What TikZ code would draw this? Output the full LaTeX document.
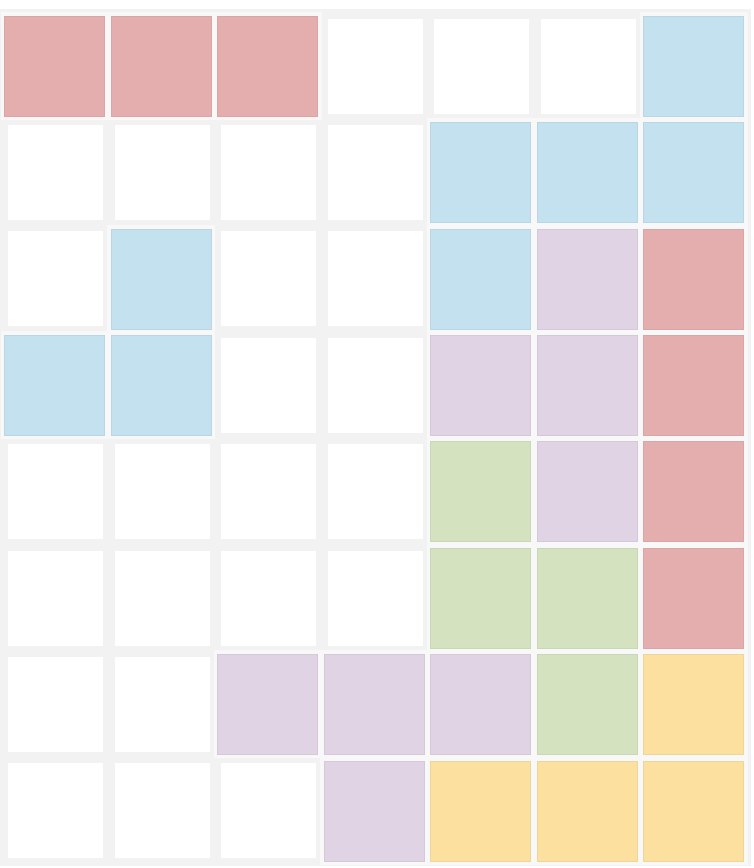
\documentclass[tikz,border=0pt]{standalone}
\definecolor{bgcol}{HTML}{F2F2F2}
\definecolor{framecol}{HTML}{F8F8F8}
\definecolor{cr}{HTML}{E4AEAE}
\definecolor{cb}{HTML}{C3E1EE}
\definecolor{cp}{HTML}{E0D3E3}
\definecolor{cg}{HTML}{D4E2C0}
\definecolor{cy}{HTML}{FBE0A0}
\begin{document}
\begin{tikzpicture}[x=1pt,y=-1pt,
  framebox/.style={fill=framecol, inner sep=0pt, outer sep=0pt, minimum size=108pt},
  colcell/.style={fill=#1, draw=#1!95!black, line width=0.5pt, inner sep=0pt, outer sep=0pt, minimum size=100pt},
  whitecell/.style={fill=white, inner sep=0pt, outer sep=0pt, minimum size=95pt}]
\useasboundingbox[fill=white] (0,0) rectangle (754,868);
\fill[bgcol] (0,9) rectangle (751,866);
\def\collist{1/1/cr,1/2/cr,1/3/cr,1/7/cb,
 2/5/cb,2/6/cb,2/7/cb,
 3/2/cb,3/5/cb,3/6/cp,3/7/cr,
 4/1/cb,4/2/cb,4/5/cp,4/6/cp,4/7/cr,
 5/5/cg,5/6/cp,5/7/cr,
 6/5/cg,6/6/cg,6/7/cr,
 7/3/cp,7/4/cp,7/5/cp,7/6/cg,7/7/cy,
 8/4/cp,8/5/cy,8/6/cy,8/7/cy}
\foreach \r/\c/\k in \collist {
  \node[framebox] (f\r-\c) at ({54.5+106.5*(\c-1)},{66+106.4*(\r-1)}) {};
}
\foreach \r/\c/\k in \collist {
  \node[colcell=\k] (n\r-\c) at ({54.5+106.5*(\c-1)},{66+106.4*(\r-1)}) {};
}
\foreach \r/\c in {1/4,1/5,1/6,
 2/1,2/2,2/3,2/4,
 3/1,3/3,3/4,
 4/3,4/4,
 5/1,5/2,5/3,5/4,
 6/1,6/2,6/3,6/4,
 7/1,7/2,
 8/1,8/2,8/3} {
  \node[whitecell] (n\r-\c) at ({55.5+106.5*(\c-1)},{66+106.4*(\r-1)}) {};
}
\end{tikzpicture}
\end{document}
